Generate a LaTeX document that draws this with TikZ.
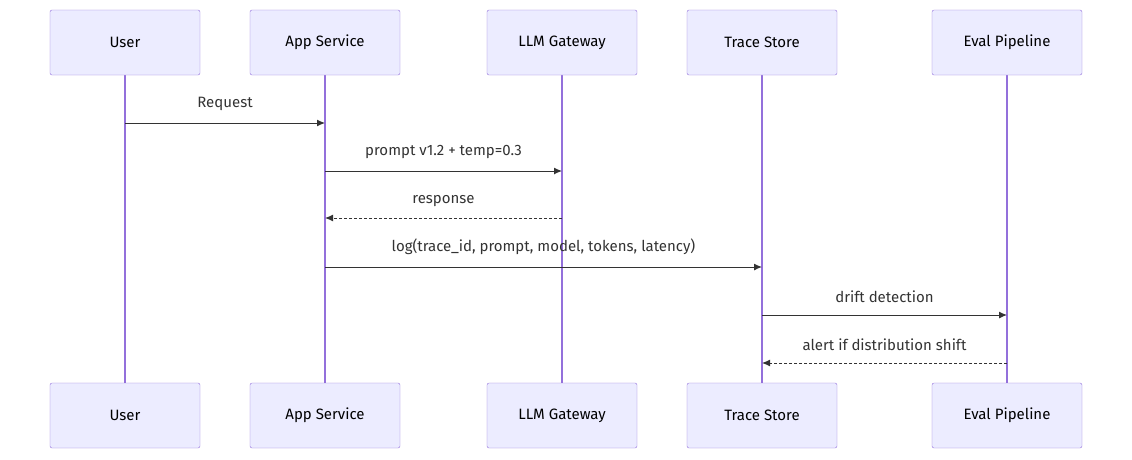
\documentclass[tikz,border=0pt]{standalone}
\usepackage{fontspec}
\setmainfont{Fira Sans}
\usetikzlibrary{arrows.meta}
\definecolor{boxfill}{HTML}{ECECFF}
\definecolor{boxline}{HTML}{9370DB}
\definecolor{ink}{HTML}{333333}
\begin{document}
\begin{tikzpicture}[x=1pt,y=-1pt,
  actor/.style={draw=boxline,fill=boxfill,rounded corners=2pt,minimum width=150pt,minimum height=65pt,font=\fontsize{15}{18}\selectfont,text=black},
  life/.style={draw=boxline,line width=1.2pt},
  msg/.style={draw=ink,line width=1pt,-{Latex[length=8pt,width=7pt]}},
  reply/.style={msg,dash pattern=on 3pt off 2pt},
  lbl/.style={font=\fontsize{15}{18}\selectfont,text=ink}]
\useasboundingbox (0,0) rectangle (1132,459);
\foreach \n/\x/\t in {u/125/User,a/325/App Service,l/562/LLM Gateway,t/762/Trace Store,e/1007/Eval Pipeline}{
  \draw[life] (\x,75) -- (\x,383);
  \node[actor] (\n top) at (\x,42.5) {\t};
  \node[actor] (\n bot) at (\x,415.5) {\t};
}
\foreach \n/\x in {u/125,a/325,l/562,t/762,e/1007}{
  \foreach \y/\k in {123/1,171/2,218/3,267/4,315/5,363/6}{
    \coordinate (\n\k) at (\x,\y);
  }
}
\draw[msg] (u1) -- (a1) node[lbl,midway,above=8pt] {Request};
\draw[msg] (a2) -- (l2) node[lbl,midway,above=8pt] {prompt v1.2 + temp=0.3};
\draw[reply] (l3) -- (a3) node[lbl,midway,above=7pt] {response};
\draw[msg] (a4) -- (t4) node[lbl,midway,above=8pt] {log(trace\_id, prompt, model, tokens, latency)};
\draw[msg] (t5) -- (e5) node[lbl,midway,above=8pt] {drift detection};
\draw[reply] (e6) -- (t6) node[lbl,midway,above=8pt] {alert if distribution shift};
\end{tikzpicture}
\end{document}
